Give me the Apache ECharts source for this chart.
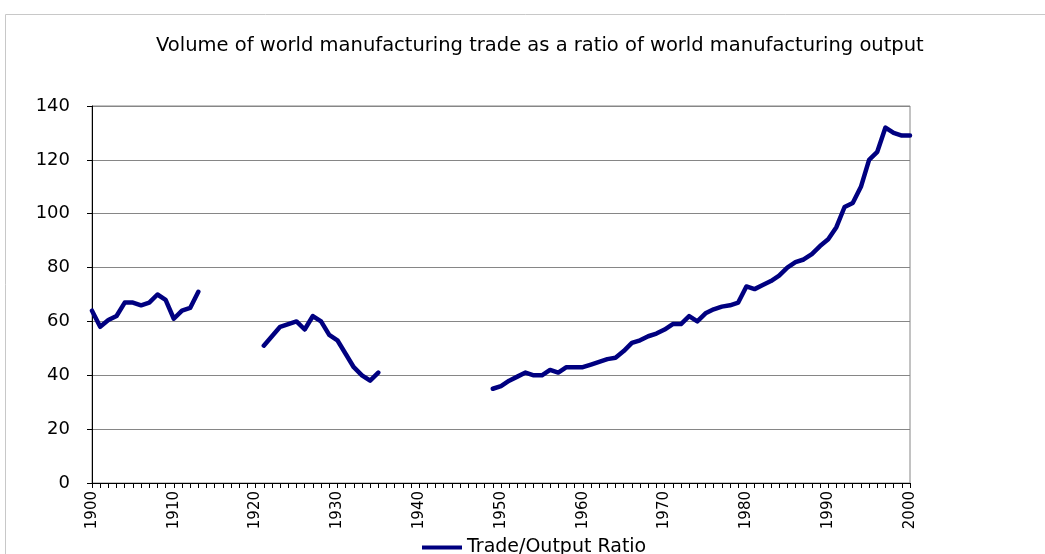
<!DOCTYPE html>
<html>
<head>
<meta charset="utf-8">
<title>Volume of world manufacturing trade</title>
<script src="https://cdn.jsdelivr.net/npm/echarts@6/dist/echarts.min.js"></script>
<style>
  html, body { margin: 0; padding: 0; background: #ffffff; }
  #chart { width: 1045px; height: 554px; }
</style>
</head>
<body>
<div id="chart"></div>
<script>
// Trade/output ratio, three periods of annual observations (gaps = no data)
const seriesName = 'Trade/Output Ratio';
const period1Start = 1900;
const period1Values = [64, 58, 60.5, 62, 67, 67, 66, 67, 70, 68, 61, 64, 65, 71];
const period2Start = 1921;
const period2Values = [51, 54.5, 58, 59, 60, 57, 62, 60, 55, 53, 48, 43, 40, 38, 41];
const period3Start = 1949;
const period3Values = [
  35, 36, 38, 39.5, 41, 40, 40, 42, 41, 43,
  43, 43, 44, 45, 46, 46.5, 49, 52, 53, 54.5,
  55.5, 57, 59, 59, 62, 60, 63, 64.5, 65.5, 66,
  67, 73, 72, 73.5, 75, 77, 80, 82, 83, 85,
  88, 90.5, 95, 102.5, 104, 110, 120, 123, 132, 130,
  129, 129
];
const firstYear = 1900;
const lastYear = 2000;
const yTicks = [0, 20, 40, 60, 80, 100, 120, 140];

// one entry per year; years outside the three periods stay empty so the line breaks
const byYear = {};
[[period1Start, period1Values], [period2Start, period2Values], [period3Start, period3Values]]
  .forEach(([start, vals]) => vals.forEach((v, i) => { byYear[start + i] = v; }));
const lineData = [];
for (let y = firstYear; y <= lastYear; y++) {
  lineData.push([y, byYear[y] !== undefined ? byYear[y] : '-']);
}

const FONT = 'DejaVu Sans';
const chart = echarts.init(document.getElementById('chart'), null, { renderer: 'canvas' });
chart.setOption({
  backgroundColor: '#ffffff',
  animation: false,
  title: {
    text: 'Volume of world manufacturing trade as a ratio of world manufacturing output',
    left: 156,
    top: 36,
    padding: 0,
    textStyle: { fontFamily: FONT, fontSize: 19.5, fontWeight: 'normal', color: '#000000' }
  },
  graphic: [{
    type: 'rect',
    shape: { x: 5.5, y: 14.5, width: 1100, height: 600 },
    style: { fill: 'none', stroke: '#c8c8c8', lineWidth: 1 },
    silent: true
  }],
  legend: {
    data: [{ name: seriesName, icon: 'rect' }],
    left: 422,
    top: 538,
    padding: 0,
    itemWidth: 40,
    itemHeight: 4,
    itemGap: 5,
    textStyle: { fontFamily: FONT, fontSize: 19, color: '#000000' }
  },
  grid: {
    left: 92, right: 135, top: 106, bottom: 71,
    show: true, borderColor: '#868686', borderWidth: 1, backgroundColor: 'transparent'
  },
  xAxis: {
    type: 'value',
    min: firstYear,
    max: lastYear,
    interval: 10,
    axisLine: { show: true, lineStyle: { color: '#000000', width: 1 } },
    axisTick: { show: true, length: 5, lineStyle: { color: '#000000' } },
    minorTick: { show: true, splitNumber: 10, length: 5, lineStyle: { color: '#000000' } },
    splitLine: { show: false },
    axisLabel: {
      rotate: 90,
      margin: 8,
      fontFamily: FONT, fontSize: 15, color: '#000000',
      formatter: v => String(v)
    }
  },
  yAxis: {
    type: 'value',
    min: yTicks[0],
    max: yTicks[yTicks.length - 1],
    interval: yTicks[1] - yTicks[0],
    axisLine: { show: true, lineStyle: { color: '#000000', width: 1 } },
    axisTick: { show: true, length: 5, lineStyle: { color: '#000000' } },
    splitLine: { show: true, lineStyle: { color: '#868686', width: 1 } },
    axisLabel: { margin: 22, fontFamily: FONT, fontSize: 18, color: '#000000' }
  },
  series: [{
    name: seriesName,
    type: 'line',
    data: lineData,
    connectNulls: false,
    showSymbol: false,
    symbol: 'none',
    color: '#000080',
    lineStyle: { color: '#000080', width: 4.5, cap: 'round', join: 'round' }
  }]
});
</script>
</body>
</html>
